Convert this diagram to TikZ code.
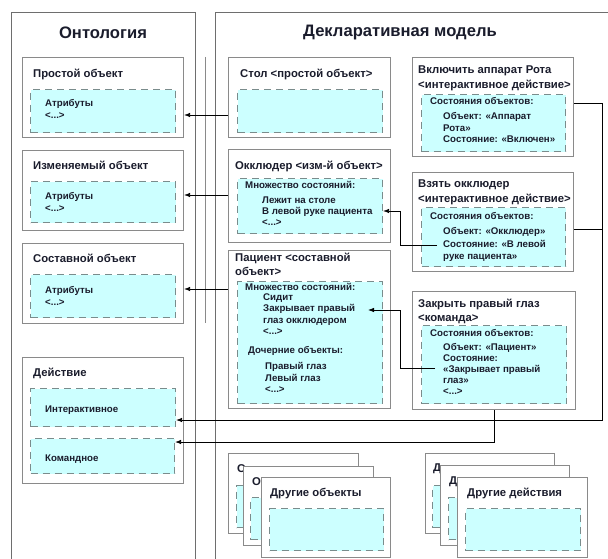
\documentclass[tikz,border=0pt]{standalone}
\usepackage{fontspec}
\setmainfont{Liberation Sans}
\usetikzlibrary{arrows.meta}
\definecolor{cyanf}{HTML}{CCFFFF}
\definecolor{dashc}{HTML}{7A8C8C}
\definecolor{boxc}{HTML}{8A8A8A}
\definecolor{panc}{HTML}{6E6E6E}
\definecolor{txt}{HTML}{1A1C2C}
\tikzset{
 panel/.style={draw=panc, line width=0.9pt, fill=white, anchor=north west, inner sep=0},
 obox/.style={draw=boxc, line width=1.1pt, fill=white, anchor=north west, inner sep=0},
 ibox/.style={draw=dashc, line width=1.1pt, dash pattern=on 7pt off 5pt, fill=cyanf, anchor=north west, inner sep=0},
 ptitle/.style={font=\fontsize{16.6}{19}\selectfont\bfseries, text=txt, inner sep=0},
 btitle/.style={font=\fontsize{11.3}{14.5}\selectfont\bfseries, text=txt, anchor=north west, inner sep=0, align=left},
 itext/.style={font=\fontsize{9.7}{11.3}\selectfont\bfseries, text=txt, anchor=north west, inner sep=0, align=left},
 arr/.style={draw=black, line width=0.8pt, -{Latex[length=6pt,width=4.5pt]}},
 conn/.style={draw=black, line width=0.8pt},
}
\begin{document}
\begin{tikzpicture}[x=1pt,y=-1pt]
\useasboundingbox (0,0) rectangle (608,559);
\fill[white] (0,0) rectangle (608,559);
% panels
\node[panel, minimum width=184, minimum height=570] (onto) at (11,12) {};
\node[panel, minimum width=400, minimum height=570] (decl) at (215,12) {};
\coordinate (sepA) at (205,57);
\coordinate (sepB) at (205,323);
\draw[draw=boxc, line width=0.9pt] (sepA) -- (sepB);
\node[ptitle] (ontoT) at (103,33) {Онтология};
\node[ptitle] (declT) at (400,33) {Декларативная модель};
% ontology boxes
\node[obox, minimum width=161, minimum height=80] (prost) at (22,57) {};
\node[btitle] (prostT) at (33,69) {Простой объект};
\node[ibox, minimum width=145, minimum height=43] (prostI) at (30,89) {};
\node[itext] (prostA) at (45,99.5) {Атрибуты\\<...>};
\node[obox, minimum width=161, minimum height=80] (izm) at (22,150) {};
\node[btitle] (izmT) at (33,161) {Изменяемый объект};
\node[ibox, minimum width=145, minimum height=41] (izmI) at (30,181) {};
\node[itext] (izmA) at (45,192.5) {Атрибуты\\<...>};
\node[obox, minimum width=161, minimum height=80] (sost) at (22,243) {};
\node[btitle] (sostT) at (33,254) {Составной объект};
\node[ibox, minimum width=145, minimum height=43] (sostI) at (30,274) {};
\node[itext] (sostA) at (45,286.5) {Атрибуты\\<...>};
\node[obox, minimum width=161, minimum height=126] (deystv) at (22,357) {};
\node[btitle] (deystvT) at (33,368) {Действие};
\node[ibox, minimum width=145, minimum height=38] (intr) at (30,388) {};
\node[itext] (intrT) at (45,405.5) {Интерактивное};
\node[ibox, minimum width=144, minimum height=35] (komand) at (30,438) {};
\node[itext] (komandT) at (45,454.5) {Командное};
% declarative objects
\node[obox, minimum width=162, minimum height=80] (stol) at (228,57) {};
\node[btitle] (stolT) at (240,69) {Стол <простой объект>};
\node[ibox, minimum width=145, minimum height=43] (stolI) at (237,89) {};
\node[obox, minimum width=162, minimum height=93] (okl) at (228,149) {};
\node[btitle] (oklT) at (235,161) {Окклюдер <изм-й объект>};
\node[ibox, minimum width=145, minimum height=55] (oklI) at (237,178) {};
\node[itext] (oklH) at (245,181.5) {Множество состояний:};
\node[itext] (oklL) at (262,196.5) {Лежит на столе\\В левой руке пациента\\<...>};
\node[obox, minimum width=162, minimum height=158] (pac) at (228,250) {};
\node[btitle, font=\fontsize{11.3}{14}\selectfont\bfseries] (pacT) at (235,253) {Пациент <составной\\объект>};
\node[ibox, minimum width=145, minimum height=122] (pacI) at (237,281) {};
\node[itext] (pacH) at (245,283.5) {Множество состояний:};
\node[itext] (pacL) at (263,293.5) {Сидит\\Закрывает правый\\глаз окклюдером\\<...>};
\node[itext] (pacD) at (248,346.5) {Дочерние объекты:};
\node[itext] (pacE) at (265,362.5) {Правый глаз\\Левый глаз\\<...>};
% actions
\node[obox, minimum width=161, minimum height=99] (vkl) at (412,57) {};
\node[btitle, font=\fontsize{11.3}{15}\selectfont\bfseries] (vklT) at (418,66) {Включить аппарат Рота\\<интерактивное действие>};
\node[ibox, minimum width=144, minimum height=57] (vklI) at (421,94) {};
\node[itext] (vklH) at (430,97.5) {Состояния объектов:};
\node[itext, font=\fontsize{9.7}{11.5}\selectfont\bfseries] (vklL) at (443,112.5) {Объект: «Аппарат\\Рота»\\Состояние: «Включен»};
\node[obox, minimum width=161, minimum height=99] (vzyat) at (412,172) {};
\node[btitle, font=\fontsize{11.3}{15}\selectfont\bfseries] (vzyatT) at (418,180) {Взять окклюдер\\<интерактивное действие>};
\node[ibox, minimum width=144, minimum height=59] (vzyatI) at (421,207) {};
\node[itext] (vzyatH) at (430,212.5) {Состояния объектов:};
\node[itext, font=\fontsize{9.7}{12.5}\selectfont\bfseries] (vzyatL) at (443,227.5) {Объект: «Окклюдер»\\Состояние: «В левой\\руке пациента»};
\node[obox, minimum width=163, minimum height=118] (zakr) at (412,291) {};
\node[btitle, font=\fontsize{11.3}{14}\selectfont\bfseries] (zakrT) at (418,299) {Закрыть правый глаз\\<команда>};
\node[ibox, minimum width=145, minimum height=78] (zakrI) at (421,325) {};
\node[itext] (zakrH) at (430,329.5) {Состояния объектов:};
\node[itext, font=\fontsize{9.7}{11}\selectfont\bfseries] (zakrL) at (443,343.5) {Объект: «Пациент»\\Состояние:\\«Закрывает правый\\глаз»\\<...>};
% stacks of other objects
\node[obox, minimum width=130, minimum height=80] (ob1) at (228,453) {};
\node[btitle] (ob1T) at (237,464) {О};
\node[ibox, minimum width=114, minimum height=42] (ob1I) at (236,485) {};
\node[obox, minimum width=130, minimum height=79] (ob2) at (243,466) {};
\node[btitle] (ob2T) at (252,477) {О};
\node[ibox, minimum width=115, minimum height=42] (ob2I) at (250,497) {};
\node[obox, minimum width=129, minimum height=80] (ob3) at (261,477) {};
\node[btitle] (ob3T) at (270,488) {Другие объекты};
\node[ibox, minimum width=114, minimum height=42] (ob3I) at (269,508) {};
\node[obox, minimum width=129, minimum height=80] (ac1) at (425,453) {};
\node[btitle] (ac1T) at (433,464) {Д};
\node[ibox, minimum width=115, minimum height=42] (ac1I) at (432,485) {};
\node[obox, minimum width=129, minimum height=80] (ac2) at (440,465) {};
\node[btitle] (ac2T) at (449,477) {Д};
\node[ibox, minimum width=114, minimum height=42] (ac2I) at (448,497) {};
\node[obox, minimum width=130, minimum height=80] (ac3) at (457,477) {};
\node[btitle] (ac3T) at (467,488) {Другие действия};
\node[ibox, minimum width=115, minimum height=42] (ac3I) at (465,508) {};
% connectors
\draw[arr] (stol.west |- 0,115) -- (prost.east |- 0,115);
\draw[arr] (okl.west |- 0,195) -- (izm.east |- 0,195);
\draw[arr] (pac.west |- 0,289) -- (sost.east |- 0,289);
\coordinate (bus) at (602,420);
\draw[arr] (vkl.east |- 0,103) -| (bus) -- (intr.east |- bus);
\draw[conn] (vzyat.east |- 0,229) -- (bus |- 0,229);
\draw[arr] (zakr.south) |- (komand.east |- 0,442);
\coordinate (c1) at (437,245);
\draw[arr] (c1) -- ++(-37,0) |- (oklI.east |- 0,211);
\coordinate (c2) at (435,368);
\coordinate (p1) at (368,310);
\draw[arr] (c2) -- ++(-35,0) |- (p1);
\end{tikzpicture}
\end{document}
